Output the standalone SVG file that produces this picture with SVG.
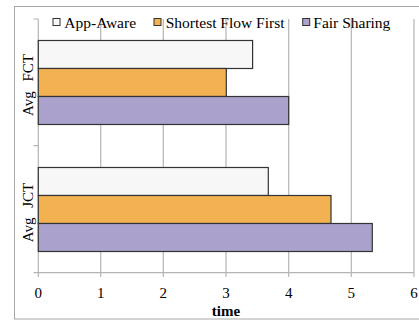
<svg xmlns="http://www.w3.org/2000/svg" width="419" height="320" viewBox="0 0 419 320">
<style>
.t{font-family:"Liberation Serif","Times New Roman",serif;font-size:15.5px;fill:#000}
.ax{font-family:"Liberation Serif","Times New Roman",serif;font-size:15px;fill:#000}
.grid{stroke:#b4b4b4;stroke-width:1.2;fill:none}
.bar{stroke:#333;stroke-width:1.2}
.aa{fill:#f7f7f7}
.sf{fill:#f3b252}
.fs{fill:#aaa1cd}
</style>
<rect x="0" y="0" width="419" height="320" fill="#fff"/>
<rect x="14.5" y="6.5" width="420" height="312.5" fill="none" stroke="#a8a8a8" stroke-width="1"/>
<g id="grid">
<path class="grid" d="M100.7 19V277M163.3 19V277M226 19V277M288.7 19V277M351.3 19V277M414 19V277"/>
<path class="grid" d="M38.3 19V277M33.5 272.7H414M33.5 19H38.3M33.5 145.7H38.3"/>
</g>
<g id="legend">
<rect x="53" y="18.5" width="7" height="7" class="aa" stroke="#333" stroke-width="1"/>
<text class="t" x="64.3" y="28.3">App-Aware</text>
<rect x="154" y="18.5" width="7" height="7" class="sf" stroke="#333" stroke-width="1"/>
<text class="t" x="165.7" y="28.3">Shortest Flow First</text>
<rect x="302.7" y="18.5" width="7" height="7" class="fs" stroke="#333" stroke-width="1"/>
<text class="t" x="313.3" y="28.3">Fair Sharing</text>
</g>
<g id="fct">
<rect class="bar aa" x="38.3" y="40.5" width="214.3" height="28"/>
<rect class="bar sf" x="38.3" y="68.5" width="188" height="28"/>
<rect class="bar fs" x="38.3" y="96.5" width="250.4" height="28"/>
<text class="ax" transform="translate(32.5 85) rotate(-90)" text-anchor="middle" word-spacing="6">Avg FCT</text>
</g>
<g id="jct">
<rect class="bar aa" x="38.3" y="167.5" width="230" height="28"/>
<rect class="bar sf" x="38.3" y="195.5" width="292.7" height="28"/>
<rect class="bar fs" x="38.3" y="223.5" width="334" height="28"/>
<text class="ax" transform="translate(32.5 212.5) rotate(-90)" text-anchor="middle" word-spacing="6">Avg JCT</text>
</g>
<g id="xaxis" class="ax" text-anchor="middle">
<text x="38.3" y="298">0</text>
<text x="100.7" y="298">1</text>
<text x="163.3" y="298">2</text>
<text x="226" y="298">3</text>
<text x="288.7" y="298">4</text>
<text x="351.3" y="298">5</text>
<text x="414" y="298">6</text>
<text x="226" y="316" font-weight="bold">time</text>
</g>
</svg>
